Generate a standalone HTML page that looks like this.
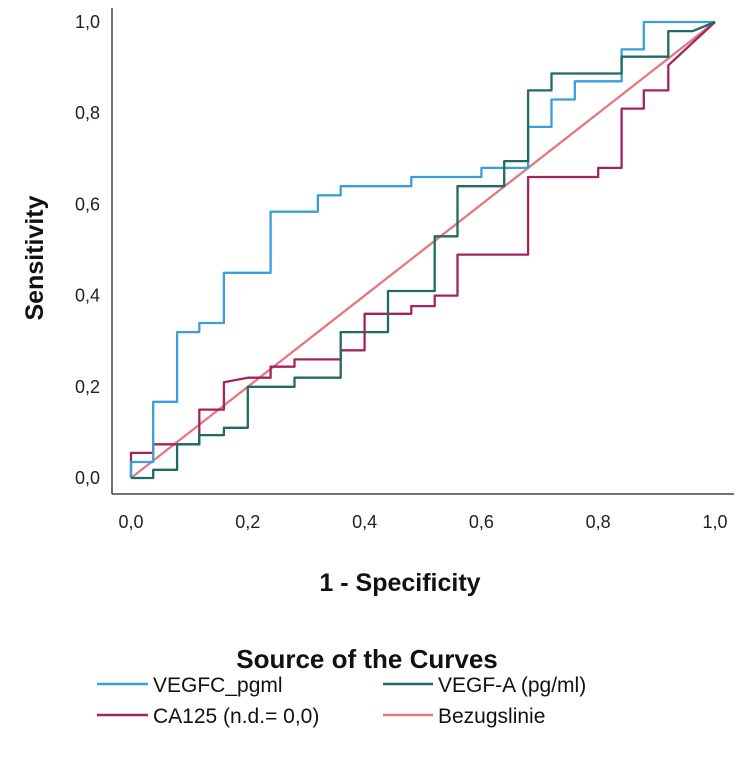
<!DOCTYPE html>
<html><head><meta charset="utf-8"><style>
body{margin:0;background:#fff;width:750px;height:776px;overflow:hidden;font-family:"Liberation Sans",Arial,sans-serif}
</style></head><body>
<svg width="750" height="776" viewBox="0 0 750 776" xmlns="http://www.w3.org/2000/svg">
<g id="axes"></g>
<g id="curves"></g>
<text x="0" y="0" transform="translate(43,258) rotate(-90)" text-anchor="middle" font-size="25" font-weight="bold" fill="#111">Sensitivity</text>
<text x="400" y="591" text-anchor="middle" font-size="25" font-weight="bold" fill="#111">1 - Specificity</text>
<text x="367" y="668" text-anchor="middle" font-size="26" font-weight="bold" fill="#111">Source of the Curves</text>
<g><line x1="97" y1="684" x2="148" y2="684" stroke="#3a9fd6" stroke-width="2.5"/><text x="153" y="692" font-size="21" fill="#111">VEGFC_pgml</text></g>
<g><line x1="383" y1="684" x2="433" y2="684" stroke="#1f6b63" stroke-width="2.5"/><text x="438" y="692" font-size="21" fill="#111">VEGF-A (pg/ml)</text></g>
<g><line x1="97" y1="715" x2="148" y2="715" stroke="#a4235e" stroke-width="2.5"/><text x="153" y="723" font-size="21" fill="#111">CA125 (n.d.= 0,0)</text></g>
<g><line x1="383" y1="715" x2="433" y2="715" stroke="#e5787d" stroke-width="2.5"/><text x="438" y="723" font-size="21" fill="#111">Bezugslinie</text></g>
</svg>
<script>
const ticks=[0,0.2,0.4,0.6,0.8,1.0];
const tickLabels=["0,0","0,2","0,4","0,6","0,8","1,0"];
const vegfcX=[0,0,0.038,0.038,0.079,0.079,0.117,0.117,0.159,0.159,0.239,0.239,0.32,0.32,0.359,0.359,0.48,0.48,0.60,0.60,0.68,0.68,0.72,0.72,0.76,0.76,0.84,0.84,0.878,0.878,1];
const vegfcY=[0,0.035,0.035,0.167,0.167,0.32,0.32,0.34,0.34,0.45,0.45,0.584,0.584,0.62,0.62,0.64,0.64,0.66,0.66,0.68,0.68,0.77,0.77,0.83,0.83,0.87,0.87,0.94,0.94,1,1];
const vegfaX=[0,0.038,0.038,0.079,0.079,0.117,0.117,0.159,0.159,0.2,0.2,0.28,0.28,0.359,0.359,0.44,0.44,0.52,0.52,0.559,0.559,0.639,0.639,0.68,0.68,0.72,0.72,0.84,0.84,0.92,0.92,0.962,1];
const vegfaY=[0,0,0.018,0.018,0.074,0.074,0.094,0.094,0.11,0.11,0.2,0.2,0.22,0.22,0.32,0.32,0.41,0.41,0.53,0.53,0.64,0.64,0.695,0.695,0.85,0.85,0.887,0.887,0.924,0.924,0.98,0.98,1];
const ca125X=[0,0,0.038,0.038,0.117,0.117,0.159,0.159,0.2,0.239,0.239,0.28,0.28,0.359,0.359,0.40,0.40,0.48,0.48,0.52,0.52,0.559,0.559,0.68,0.68,0.80,0.80,0.84,0.84,0.878,0.878,0.92,0.92,1];
const ca125Y=[0,0.055,0.055,0.074,0.074,0.15,0.15,0.21,0.22,0.22,0.244,0.244,0.26,0.26,0.28,0.28,0.36,0.36,0.377,0.377,0.40,0.40,0.49,0.49,0.66,0.66,0.68,0.68,0.81,0.81,0.85,0.85,0.905,1];
const refX=[0,1], refY=[0,1];
const NS="http://www.w3.org/2000/svg";
const sx=v=>131+v*584, sy=v=>478-v*456;
const axes=document.getElementById('axes'), curves=document.getElementById('curves');
function mk(tag,attrs,parent){const e=document.createElementNS(NS,tag);for(const k in attrs)e.setAttribute(k,attrs[k]);parent.appendChild(e);return e;}
let a=mk('line',{x1:112,y1:8,x2:112,y2:494,stroke:'#444','stroke-width':1.5},axes);


a=mk('line',{x1:112,y1:494,x2:734,y2:494,stroke:'#444','stroke-width':1.5},axes);


ticks.forEach((t,i)=>{
 let e=mk('text',{x:100,y:sy(t)+6,'text-anchor':'end','font-size':18,fill:'#222'},axes);e.textContent=tickLabels[i];
 
 
 e=mk('text',{x:sx(t),y:528,'text-anchor':'middle','font-size':18,fill:'#222'},axes);e.textContent=tickLabels[i];
 
 
});
function line(xs,ys,col,name){
 const p=xs.map((x,i)=>sx(x).toFixed(1)+','+sy(ys[i]).toFixed(1)).join(' ');
 const e=mk('polyline',{points:p,fill:'none',stroke:col,'stroke-width':2.3,'stroke-linejoin':'round'},curves);
 
 
}
line(refX,refY,'#e5787d','reference-line');
line(ca125X,ca125Y,'#a4235e','ca125-curve');
line(vegfcX,vegfcY,'#3a9fd6','vegfc-curve');
line(vegfaX,vegfaY,'#1f6b63','vegfa-curve');
</script>
</body></html>
